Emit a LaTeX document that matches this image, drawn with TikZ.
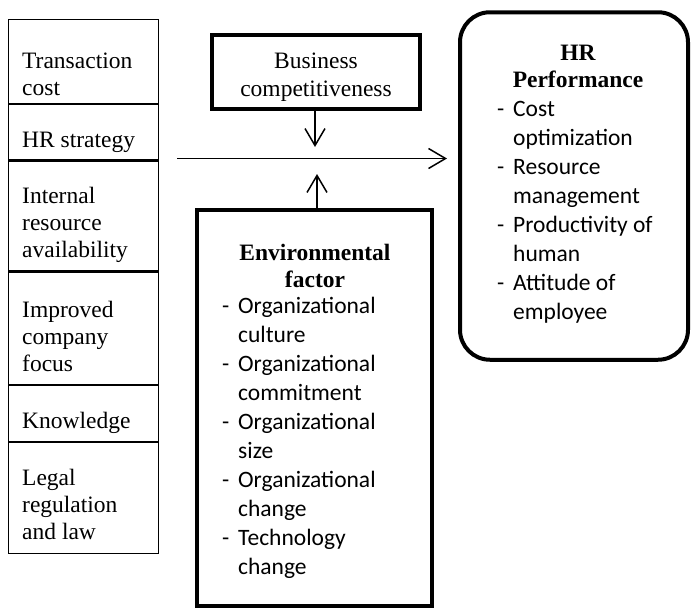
\documentclass[tikz,border=0pt]{standalone}
\usepackage{fontspec}
\setmainfont{Liberation Serif}
\newfontfamily\calibri{Carlito}
\usetikzlibrary{arrows.meta, positioning, calc}

\begin{document}
\begin{tikzpicture}[
    x=1pt, y=-1pt,
    font=\fontsize{23.5}{27}\selectfont,
    cell/.style={draw, line width=1.2pt, minimum width=150pt, inner sep=0pt},
    celltxt/.style={anchor=base west, align=left, inner sep=0pt},
    thickbox/.style={draw, line width=4pt, inner sep=0pt},
    head/.style={anchor=base, align=center, inner sep=0pt,
                 font=\fontsize{23.5}{27}\selectfont\bfseries},
    items/.style={anchor=base west, inner sep=0pt,
                  font=\fontsize{23.5}{29}\selectfont\calibri},
    flow/.style={-{Straight Barb[length=17pt,width=20pt]}, line width=1.5pt}
]
\useasboundingbox (0,0) rectangle (691,611);

% left column of factors
\node[cell, minimum height=84pt, anchor=north west] (c1) at (7.5,19) {};
\node[cell, minimum height=55pt, below=0pt of c1] (c2) {};
\node[cell, minimum height=110pt, below=0pt of c2] (c3) {};
\node[cell, minimum height=112pt, below=0pt of c3] (c4) {};
\node[cell, minimum height=56pt, below=0pt of c4] (c5) {};
\node[cell, minimum height=111pt, below=0pt of c5] (c6) {};

% texts sit on the baseline of their last line
\node[celltxt] (t1) at (22,95) {Transaction\\cost};
\node[celltxt] (t2) at (22,147) {HR strategy};
\node[celltxt] (t3) at (22,257) {Internal\\resource\\availability};
\node[celltxt] (t4) at (22,371) {Improved\\company\\focus};
\node[celltxt] (t5) at (22,428) {Knowledge};
\node[celltxt] (t6) at (22,539) {Legal\\regulation\\and law};

% business competitiveness
\node[thickbox, minimum width=208pt, minimum height=74pt] (biz) at (316,72) {};
\node[anchor=base, align=center, inner sep=0pt, font=\fontsize{23.5}{28.5}\selectfont]
    (biztxt) at (316,96.5) {Business\\competitiveness};

% environmental factor
\node[thickbox, minimum width=235pt, minimum height=396pt] (env) at (314.5,408) {};
\node[head] (envhead) at (315,287) {Environmental\\factor};
\node[items] (envlist) at (222,313) {\begin{tabular}[t]{@{}p{16pt}@{}l@{}}
  - & Organizational\\ & culture\\
  - & Organizational\\ & commitment\\
  - & Organizational\\ & size\\
  - & Organizational\\ & change\\
  - & Technology\\ & change
\end{tabular}};

% HR performance
\node[draw, line width=4pt, rounded corners=30pt, inner sep=0pt,
      minimum width=228pt, minimum height=347.5pt] (hr) at (574,186) {};
\node[head] (hrhead) at (578,87) {HR\\Performance};
\node[items] (hrlist) at (497,116) {\begin{tabular}[t]{@{}p{16pt}@{}l@{}}
  - & Cost\\ & optimization\\
  - & Resource\\ & management\\
  - & Productivity of\\ & human\\
  - & Attitude of\\ & employee
\end{tabular}};

% arrows
\coordinate (lstart) at (177,158.5);
\coordinate (dtip) at (315,147);
\coordinate (utip) at (317,174);
\draw[flow, shorten >=11pt] (lstart) -- (hr.west |- lstart);
\draw[flow] (biz.south -| dtip) -- (dtip);
\draw[flow] (env.north -| utip) -- (utip);

\end{tikzpicture}
\end{document}
